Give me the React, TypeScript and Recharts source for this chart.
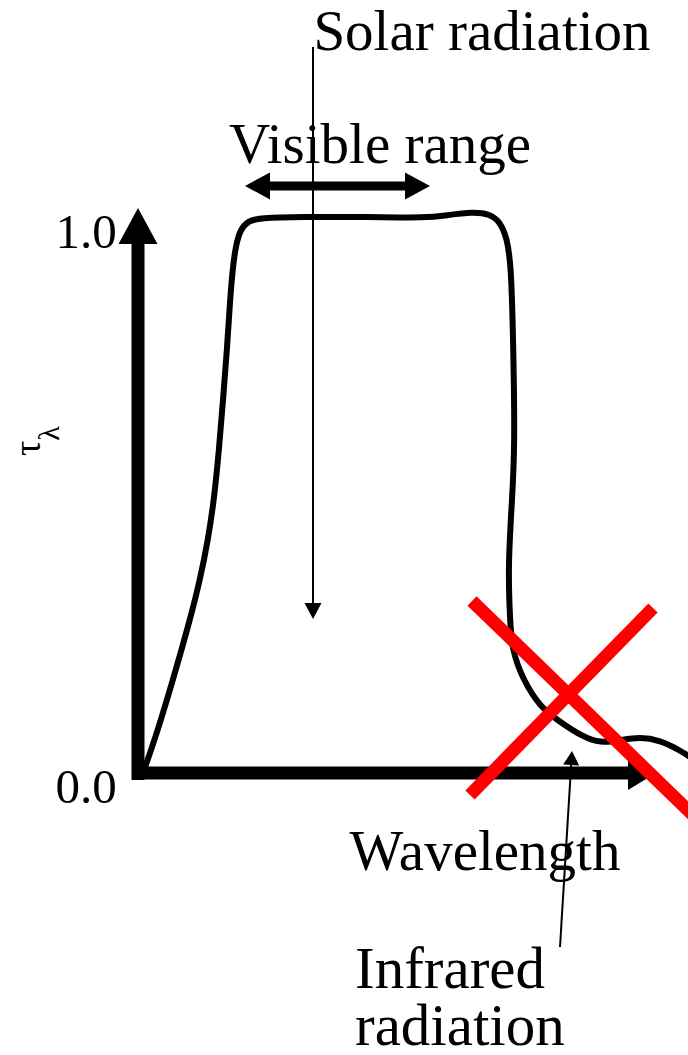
import React from 'react';
import { ComposedChart, Line, XAxis, YAxis, ReferenceLine, ReferenceDot } from 'recharts';

// Curve: spectral transmittance tau_lambda vs wavelength (arbitrary units)
const wavelength = [1, 3.8, 7, 10.4, 12.4, 14, 15.2, 16.2, 17, 17.8, 18.4, 19, 19.6, 20.4, 22, 24.4, 32.4, 45.8, 57.8, 61.8, 67, 70.4, 72.4, 73.8, 74.6, 75, 75.4, 74.8, 74, 74.4, 74.8, 77, 80.4, 84.4, 89, 92.4, 96.4, 100.4, 104.4, 108.4, 111.4];
const transmittance = [0, 0.072, 0.168, 0.276, 0.348, 0.42, 0.492, 0.582, 0.672, 0.762, 0.852, 0.915, 0.951, 0.978, 0.995, 1.0, 1.002, 1.002, 1.0, 1.005, 1.011, 1.007, 0.993, 0.964, 0.915, 0.798, 0.587, 0.492, 0.371, 0.276, 0.222, 0.168, 0.119, 0.092, 0.065, 0.054, 0.059, 0.065, 0.059, 0.041, 0.023];

const tickValues = [0, 1];
const tickLabels = ['0.0', '1.0'];

const annotationTexts = ['Solar radiation', 'Visible range', 'Wavelength', 'Infrared', 'radiation'];
const axisTitle = 'τ';
const axisTitleSub = 'λ';

const X_DOMAIN: [number, number] = [0, 110];
const Y_DOMAIN: [number, number] = [-0.5081, 1.3928];

const FONT = "'Liberation Serif', 'Times New Roman', serif";

const data = wavelength.map((x, i) => ({ x, y: transmittance[i] }));

type ArrowOpts = { width: number; head: number; headWidth: number; both?: boolean; color?: string };

function arrowShape({ width, head, headWidth, both, color = '#000' }: ArrowOpts) {
  return (p: any) => {
    const { x1, y1, x2, y2 } = p;
    const dx = x2 - x1;
    const dy = y2 - y1;
    const len = Math.hypot(dx, dy) || 1;
    const ux = dx / len;
    const uy = dy / len;
    const nx = -uy;
    const ny = ux;
    const tri = (tx: number, ty: number, vx: number, vy: number) => {
      const bx = tx - vx * head;
      const by = ty - vy * head;
      return `${tx},${ty} ${bx + nx * headWidth / 2},${by + ny * headWidth / 2} ${bx - nx * headWidth / 2},${by - ny * headWidth / 2}`;
    };
    const sx = both ? x1 + ux * head * 0.9 : x1;
    const sy = both ? y1 + uy * head * 0.9 : y1;
    const ex = x2 - ux * head * 0.9;
    const ey = y2 - uy * head * 0.9;
    return (
      <g>
        <line x1={sx} y1={sy} x2={ex} y2={ey} stroke={color} strokeWidth={width} />
        <polygon points={tri(x2, y2, ux, uy)} fill={color} />
        {both ? <polygon points={tri(x1, y1, -ux, -uy)} fill={color} /> : null}
      </g>
    );
  };
}

const textShape = (label: string, anchor: 'start' | 'middle' | 'end', size: number) => (p: any) => (
  <text x={p.cx} y={p.cy} textAnchor={anchor} fontFamily={FONT} fontSize={size} fill="#000">
    {label}
  </text>
);

const tauShape = (p: any) => (
  <text
    x={p.cx}
    y={p.cy}
    textAnchor="start"
    fontFamily={FONT}
    fontSize={38}
    fill="#000"
    transform={`rotate(-90, ${p.cx}, ${p.cy})`}
  >
    {axisTitle}
    <tspan fontSize={30} dy={19}>{axisTitleSub}</tspan>
  </text>
);

const YTick = (props: any) => {
  const { x, y, payload } = props;
  const idx = tickValues.indexOf(payload.value);
  return (
    <text x={x} y={y} dy={30} textAnchor="middle" fontFamily={FONT} fontSize={49} fill="#000">
      {tickLabels[idx]}
    </text>
  );
};

export default function App() {
  return (
    <div style={{ position: 'absolute', left: 0, top: 0, width: 688, height: 1055, overflow: 'hidden', background: '#fff' }}>
      <ComposedChart width={688} height={1055} data={data} margin={{ top: 0, right: 0, bottom: 0, left: 0 }}>
        <XAxis type="number" dataKey="x" domain={X_DOMAIN} hide allowDataOverflow />
        <YAxis
          type="number"
          domain={Y_DOMAIN}
          ticks={tickValues}
          width={138}
          axisLine={false}
          tickLine={false}
          tickSize={0}
          tickMargin={52}
          tick={<YTick />}
          allowDataOverflow
        />
        {/* axes drawn as arrows */}
        <ReferenceLine
          segment={[{ x: 0, y: -0.0126 }, { x: 0, y: 1.018 }]}
          ifOverflow="visible"
          shape={arrowShape({ width: 13, head: 36, headWidth: 39 })}
        />
        <ReferenceLine
          segment={[{ x: -1.2, y: 0 }, { x: 103.6, y: 0 }]}
          ifOverflow="visible"
          shape={arrowShape({ width: 13, head: 28, headWidth: 34 })}
        />
        <Line
          type="basis"
          dataKey="y"
          stroke="#000"
          strokeWidth={6}
          dot={false}
          activeDot={false}
          isAnimationActive={false}
        />
        {/* annotation arrows */}
        <ReferenceLine
          segment={[{ x: 21.4, y: 1.0577 }, { x: 58.4, y: 1.0577 }]}
          ifOverflow="visible"
          shape={arrowShape({ width: 9, head: 25, headWidth: 27, both: true })}
        />
        <ReferenceLine
          segment={[{ x: 35, y: 1.3081 }, { x: 35, y: 0.2775 }]}
          ifOverflow="visible"
          shape={arrowShape({ width: 2, head: 16, headWidth: 17 })}
        />
        <ReferenceLine
          segment={[{ x: 84.4, y: -0.3135 }, { x: 86.8, y: 0.0396 }]}
          ifOverflow="visible"
          shape={arrowShape({ width: 2, head: 14, headWidth: 16 })}
        />
        {/* texts */}
        <ReferenceDot x={68.8} y={1.3027} ifOverflow="visible" shape={textShape(annotationTexts[0], 'middle', 57)} />
        <ReferenceDot x={48.4} y={1.0991} ifOverflow="visible" shape={textShape(annotationTexts[1], 'middle', 57)} />
        <ReferenceDot x={69.4} y={-0.1748} ifOverflow="visible" shape={textShape(annotationTexts[2], 'middle', 57)} />
        <ReferenceDot x={43.4} y={-0.3874} ifOverflow="visible" shape={textShape(annotationTexts[3], 'start', 59)} />
        <ReferenceDot x={43.4} y={-0.4901} ifOverflow="visible" shape={textShape(annotationTexts[4], 'start', 59)} />
        <ReferenceDot x={-19.6} y={0.5712} ifOverflow="visible" shape={tauShape} />
        {/* red cross */}
        <ReferenceLine
          segment={[{ x: 66.8, y: 0.3099 }, { x: 111, y: -0.0757 }]}
          ifOverflow="visible"
          stroke="#ff0000"
          strokeWidth={13}
        />
        <ReferenceLine
          segment={[{ x: 103, y: 0.2973 }, { x: 66.4, y: -0.0396 }]}
          ifOverflow="visible"
          stroke="#ff0000"
          strokeWidth={13}
        />
      </ComposedChart>
    </div>
  );
}
